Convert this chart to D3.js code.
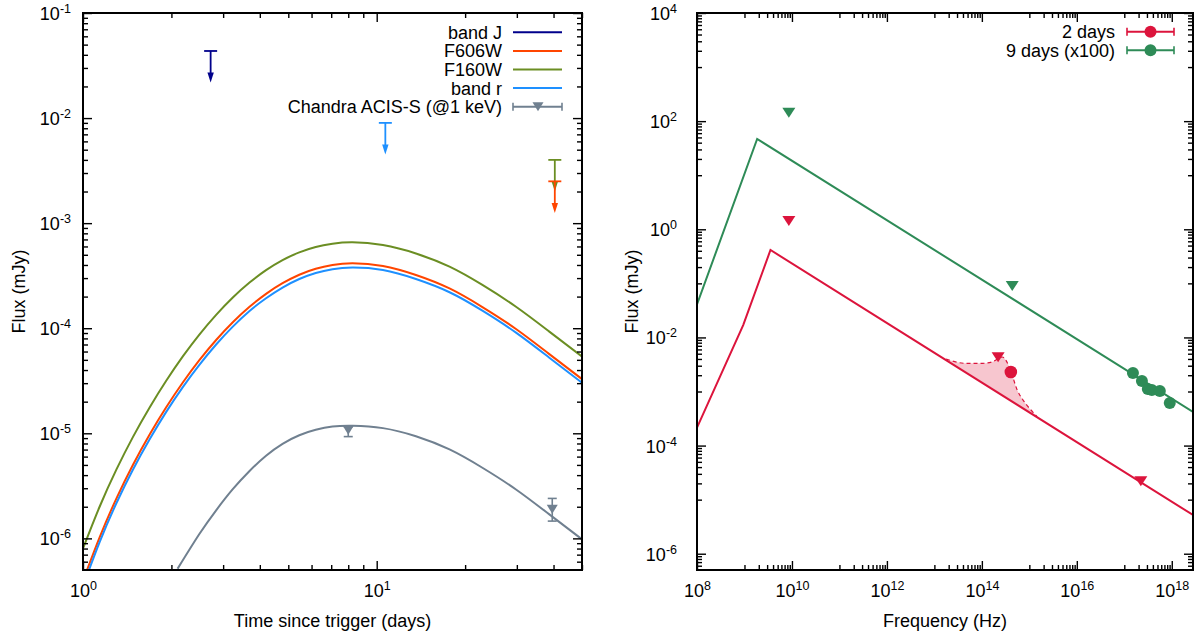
<!DOCTYPE html>
<html><head><meta charset="utf-8">
<script src="https://cdn.jsdelivr.net/npm/d3@7"></script>
<style>body{margin:0;background:#fff} svg{display:block}</style>
</head><body><svg id="c" width="1197" height="635"></svg>
<script>
// ---------------- LEFT PANEL DATA (light curves) ----------------
const lcTimes   = [1, 1.14, 1.3, 1.48, 1.69, 1.92, 2.19, 2.49, 2.84, 3.23, 3.69, 4.2, 4.78, 5.45, 6.2, 7.07, 8.27, 10.5, 13.6, 17.7, 22.9, 29.8, 38.6, 50];
const fluxF160W = [8.0e-7, 2.01e-6, 4.53e-6, 9.25e-6, 1.78e-5, 3.16e-5, 5.42e-5, 8.71e-5, 1.34e-4, 1.95e-4, 2.72e-4, 3.57e-4, 4.45e-4, 5.27e-4, 5.93e-4, 6.37e-4, 6.58e-4, 6.19e-4, 5.15e-4, 3.85e-4, 2.58e-4, 1.60e-4, 9.33e-5, 5.37e-5];
const fluxF606W = [3.94e-7, 1.03e-6, 2.40e-6, 5.02e-6, 9.84e-6, 1.77e-5, 3.06e-5, 4.97e-5, 7.73e-5, 1.135e-4, 1.60e-4, 2.125e-4, 2.68e-4, 3.23e-4, 3.68e-4, 4.00e-4, 4.15e-4, 3.91e-4, 3.21e-4, 2.39e-4, 1.59e-4, 9.84e-5, 5.70e-5, 3.28e-5];
const fluxBandR = [3.51e-7, 9.27e-7, 2.17e-6, 4.53e-6, 8.87e-6, 1.60e-5, 2.77e-5, 4.49e-5, 7.0e-5, 1.03e-4, 1.46e-4, 1.93e-4, 2.44e-4, 2.94e-4, 3.36e-4, 3.65e-4, 3.78e-4, 3.58e-4, 2.94e-4, 2.20e-4, 1.47e-4, 9.08e-5, 5.27e-5, 3.03e-5];
const xrayTimes = [2.1, 2.49, 2.84, 3.23, 3.69, 4.2, 4.78, 5.45, 6.2, 7.07, 8.28, 10.5, 13.6, 17.7, 22.9, 29.8, 38.6, 50];
const fluxXray  = [5.15e-7, 1.10e-6, 1.85e-6, 2.92e-6, 4.38e-6, 6.12e-6, 7.94e-6, 9.59e-6, 1.08e-5, 1.16e-5, 1.18e-5, 1.12e-5, 9.38e-6, 7.02e-6, 4.70e-6, 2.92e-6, 1.70e-6, 9.8e-7];
const xrayObsT  = [8.0, 39.6];
const xrayObsF  = [1.07e-5, 1.89e-6];
const xrayObsLo = [9.3e-6, 1.46e-6];
const xrayObsHi = [1.15e-5, 2.4e-6];
const ulBand    = ["band J", "band r", "F160W", "F606W"];
const ulTime    = [2.72, 10.7, 40.4, 40.4];
const ulFlux    = [0.0435, 9.0e-3, 4.0e-3, 2.5e-3];
const legendL   = ["band J", "F606W", "F160W", "band r", "Chandra ACIS-S (@1 keV)"];

// ---------------- RIGHT PANEL DATA (SEDs) ----------------
const sed2Freq  = [1e8, 9.4e8, 3.53e9, 2.8e18];
const sed2Flux  = [2.15e-4, 1.69e-2, 0.414, 5.2e-6];
const sed9Freq  = [1e8, 1.85e9, 2.8e18];
const sed9Flux  = [4.08e-2, 46.8, 4.2e-4];
const ul2Freq   = [8.6e9, 2.2e14, 2.23e17];
const ul2Flux   = [1.42, 4.3e-3, 2.2e-5];
const ul9Freq   = [8.6e9, 4.36e14];
const ul9Flux   = [143, 0.089];
const det2Freq  = [4.08e14];
const det2Flux  = [2.29e-3];
const det9Freq  = [1.52e17, 2.35e17, 3.13e17, 3.8e17, 5.6e17, 9.08e17];
const det9Flux  = [2.2e-3, 1.56e-3, 1.11e-3, 1.07e-3, 1.02e-3, 6.1e-4];
const shadeFreq = [1.76e13, 4.63e13, 1.04e14, 1.68e14, 2.69e14, 3.77e14, 5.55e14, 7.78e14, 1.08e15, 1.46e15];
const shadeFlux = [3.99e-3, 3.32e-3, 3.32e-3, 3.56e-3, 4.35e-3, 2.88e-3, 1.07e-3, 6.49e-4, 4.55e-4, 3.42e-4];
const legendR   = ["2 days", "9 days (x100)"];

// ---------------- TICKS ----------------
const lXMajor = [1, 10];
const lXMinor = [2, 3, 4, 5, 6, 7, 8, 9, 20, 30, 40, 50];
const lYMajor = [1e-6, 1e-5, 1e-4, 1e-3, 1e-2, 1e-1];
const rXMajor = [1e8, 1e10, 1e12, 1e14, 1e16, 1e18];
const rYMajor = [1e-6, 1e-4, 1e-2, 1e0, 1e2, 1e4];

// ---------------- STYLES ----------------
const FONT = '"Liberation Sans", Arial, Helvetica, sans-serif';
const C = {J: "#00008b", F606W: "#ff4500", F160W: "#6b8e23", r: "#1e90ff", X: "#708090", d2: "#dc143c", d9: "#2e8b57"};
const ulColor = {"band J": C.J, "band r": C.r, "F160W": C.F160W, "F606W": C.F606W};

const svg = d3.select("#c");
const BL = {x0: 83, x1: 582, y0: 13, y1: 570, lab: -12};
const BR = {x0: 697, x1: 1193, y0: 13, y1: 570, lab: -20};

const xL = d3.scaleLog().domain([1, 50]).range([BL.x0, BL.x1]);
const yL = d3.scaleLog().domain([5e-7, 0.1]).range([BL.y1, BL.y0]);
const xR = d3.scaleLog().domain([1e8, 2.8e18]).range([BR.x0, BR.x1]);
const yR = d3.scaleLog().domain([5e-7, 1e4]).range([BR.y1, BR.y0]);

function minorDecades(lo, hi, exps, ks) {
  const out = [];
  exps.forEach(e => ks.forEach(k => { const v = k * Math.pow(10, e); if (v > lo && v < hi) out.push(v); }));
  return out;
}
const lYMinor = minorDecades(5e-7, 0.1, [-7, -6, -5, -4, -3, -2], [2, 3, 4, 5, 6, 7, 8, 9]);
const rXMinor = minorDecades(1e8, 2.8e18, [9, 11, 13, 15, 17], [1, 2, 3, 4, 5, 6, 7, 8, 9]);
const rYMinor = minorDecades(5e-7, 1e4, [-7, -5, -3, -1, 1, 3], [1, 2, 3, 4, 5, 6, 7, 8, 9]);

const defs = svg.append("defs");
[["clipL", BL], ["clipR", BR]].forEach(([id, b]) => {
  defs.append("clipPath").attr("id", id).append("rect")
    .attr("x", b.x0).attr("y", b.y0).attr("width", b.x1 - b.x0).attr("height", b.y1 - b.y0);
});

function supText(t, e) {
  t.text(null);
  t.append("tspan").text("10");
  t.append("tspan").attr("dy", -7).attr("font-size", 12.5).text(e);
}

function axes(x, y, b, xMaj, xMin, yMaj, yMin) {
  const g = svg.append("g");
  const mk = (axisFn, scale, vals, size, tr, labels) => {
    const a = g.append("g").attr("transform", tr)
      .call(axisFn(scale).tickValues(vals).tickSize(size).tickPadding(0)
        .tickFormat(labels ? (d => d) : () => ""));
    a.select(".domain").remove();
    a.selectAll(".tick line").attr("stroke", "#000").attr("stroke-width", 1.4);
    return a;
  };
  const bx = mk(d3.axisBottom, x, xMaj, -9, `translate(0,${b.y1})`, true);
  mk(d3.axisBottom, x, xMin, -5, `translate(0,${b.y1})`, false);
  mk(d3.axisTop, x, xMaj, -9, `translate(0,${b.y0})`, false);
  mk(d3.axisTop, x, xMin, -5, `translate(0,${b.y0})`, false);
  const ly = mk(d3.axisLeft, y, yMaj, -9, `translate(${b.x0},0)`, true);
  mk(d3.axisLeft, y, yMin, -5, `translate(${b.x0},0)`, false);
  mk(d3.axisRight, y, yMaj, -9, `translate(${b.x1},0)`, false);
  mk(d3.axisRight, y, yMin, -5, `translate(${b.x1},0)`, false);
  bx.selectAll(".tick text").each(function (d) {
    const t = d3.select(this).attr("y", 27).attr("dy", null)
      .attr("font-size", 18).attr("font-family", FONT).attr("fill", "#000").attr("text-anchor", "middle");
    supText(t, Math.round(Math.log10(d)));
  });
  ly.selectAll(".tick text").each(function (d) {
    const t = d3.select(this).attr("x", b.lab).attr("y", 6.5).attr("dy", null)
      .attr("font-size", 18).attr("font-family", FONT).attr("fill", "#000").attr("text-anchor", "end");
    supText(t, Math.round(Math.log10(d)));
  });
  g.append("rect").attr("x", b.x0).attr("y", b.y0).attr("width", b.x1 - b.x0).attr("height", b.y1 - b.y0)
    .attr("fill", "none").attr("stroke", "#000").attr("stroke-width", 2);
}

function downTri(g, cx, cy, w, h, color) {
  g.append("path").attr("d", `M${cx - w / 2},${cy - h / 2}L${cx + w / 2},${cy - h / 2}L${cx},${cy + h / 2}Z`).attr("fill", color);
}

// ---------------- LEFT PANEL ----------------
const gL = svg.append("g").attr("clip-path", "url(#clipL)");
const lineL = (times, vals) => d3.line().x((d, i) => xL(times[i])).y(d => yL(d)).curve(d3.curveNatural)(vals);
[[fluxF160W, C.F160W], [fluxF606W, C.F606W], [fluxBandR, C.r]].forEach(([v, c]) => {
  gL.append("path").attr("d", lineL(lcTimes, v)).attr("fill", "none").attr("stroke", c).attr("stroke-width", 2);
});
gL.append("path").attr("d", lineL(xrayTimes, fluxXray))
  .attr("fill", "none").attr("stroke", C.X).attr("stroke-width", 2);

// X-ray data points with error bars
xrayObsT.forEach((t, i) => {
  const cx = xL(t);
  gL.append("line").attr("x1", cx).attr("x2", cx).attr("y1", yL(xrayObsLo[i])).attr("y2", yL(xrayObsHi[i])).attr("stroke", C.X).attr("stroke-width", 1.6);
  [xrayObsLo[i], xrayObsHi[i]].forEach(v => gL.append("line").attr("x1", cx - 4.5).attr("x2", cx + 4.5).attr("y1", yL(v)).attr("y2", yL(v)).attr("stroke", C.X).attr("stroke-width", 1.6));
  downTri(gL, cx, yL(xrayObsF[i]), 11, 9, C.X);
});

// upper limits (arrow down by a factor 2)
ulBand.forEach((b, i) => {
  const c = ulColor[b], cx = xL(ulTime[i]), y0 = yL(ulFlux[i]), y1 = yL(ulFlux[i] / 2);
  gL.append("line").attr("x1", cx - 6.5).attr("x2", cx + 6.5).attr("y1", y0).attr("y2", y0).attr("stroke", c).attr("stroke-width", 1.8);
  gL.append("line").attr("x1", cx).attr("x2", cx).attr("y1", y0).attr("y2", y1 - 6).attr("stroke", c).attr("stroke-width", 1.8);
  gL.append("path").attr("d", `M${cx - 3.2},${y1 - 10}L${cx + 3.2},${y1 - 10}L${cx},${y1}Z`).attr("fill", c);
});

axes(xL, yL, BL, lXMajor, lXMinor, lYMajor, lYMinor);

// left legend
const legColorsL = [C.J, C.F606W, C.F160W, C.r, C.X];
legendL.forEach((name, i) => {
  const y = 32.3 + i * 18.6;
  svg.append("text").attr("x", 502).attr("y", y + 6.5).attr("text-anchor", "end")
    .attr("font-family", FONT).attr("font-size", 18).text(name);
  svg.append("line").attr("x1", 513).attr("x2", 562).attr("y1", y).attr("y2", y)
    .attr("stroke", legColorsL[i]).attr("stroke-width", 2);
  if (i === 4) {
    [513, 562].forEach(x => svg.append("line").attr("x1", x).attr("x2", x).attr("y1", y - 4).attr("y2", y + 4).attr("stroke", C.X).attr("stroke-width", 1.6));
    downTri(svg, 538, y, 11, 9, C.X);
  }
});

// ---------------- RIGHT PANEL ----------------
const gR = svg.append("g").attr("clip-path", "url(#clipR)");
const shadeLine = d3.line().x((d, i) => xR(shadeFreq[i])).y(d => yR(d)).curve(d3.curveMonotoneX);
gR.append("path").attr("d", shadeLine(shadeFlux) + "Z").attr("fill", "#f7c6cf").attr("stroke", "none");
gR.append("path").attr("d", shadeLine(shadeFlux)).attr("fill", "none").attr("stroke", C.d2)
  .attr("stroke-width", 1.2).attr("stroke-dasharray", "4,3");

const lineR = (fr) => d3.line().x((d, i) => xR(fr[i])).y(d => yR(d));
gR.append("path").attr("d", lineR(sed9Freq)(sed9Flux)).attr("fill", "none").attr("stroke", C.d9).attr("stroke-width", 2);
gR.append("path").attr("d", lineR(sed2Freq)(sed2Flux)).attr("fill", "none").attr("stroke", C.d2).attr("stroke-width", 2);

ul9Freq.forEach((f, i) => downTri(gR, xR(f), yR(ul9Flux[i]), 13, 10, C.d9));
ul2Freq.forEach((f, i) => downTri(gR, xR(f), yR(ul2Flux[i]), 13, 10, C.d2));
det9Freq.forEach((f, i) => gR.append("circle").attr("cx", xR(f)).attr("cy", yR(det9Flux[i])).attr("r", 6).attr("fill", C.d9));
det2Freq.forEach((f, i) => gR.append("circle").attr("cx", xR(f)).attr("cy", yR(det2Flux[i])).attr("r", 6.3).attr("fill", C.d2));

axes(xR, yR, BR, rXMajor, rXMinor, rYMajor, rYMinor);

// right legend
[C.d2, C.d9].forEach((c, i) => {
  const y = 31.7 + i * 18.5;
  svg.append("text").attr("x", 1115).attr("y", y + 6.5).attr("text-anchor", "end")
    .attr("font-family", FONT).attr("font-size", 18).text(legendR[i]);
  svg.append("line").attr("x1", 1127).attr("x2", 1174).attr("y1", y).attr("y2", y).attr("stroke", c).attr("stroke-width", 2);
  [1127, 1174].forEach(x => svg.append("line").attr("x1", x).attr("x2", x).attr("y1", y - 4).attr("y2", y + 4).attr("stroke", c).attr("stroke-width", 1.6));
  svg.append("circle").attr("cx", 1150.5).attr("cy", y).attr("r", 6).attr("fill", c);
});

// ---------------- TITLES ----------------
const title = (txt, x, y, rot) => svg.append("text").attr("text-anchor", "middle")
  .attr("transform", `translate(${x},${y})` + (rot ? " rotate(-90)" : ""))
  .attr("font-family", FONT).attr("font-size", 18).text(txt);
title("Time since trigger (days)", (BL.x0 + BL.x1) / 2, 626.5, false);
title("Frequency (Hz)", (BR.x0 + BR.x1) / 2, 626.5, false);
title("Flux (mJy)", 24.5, (BL.y0 + BL.y1) / 2, true);
title("Flux (mJy)", 637.5, (BR.y0 + BR.y1) / 2, true);
</script></body></html>
